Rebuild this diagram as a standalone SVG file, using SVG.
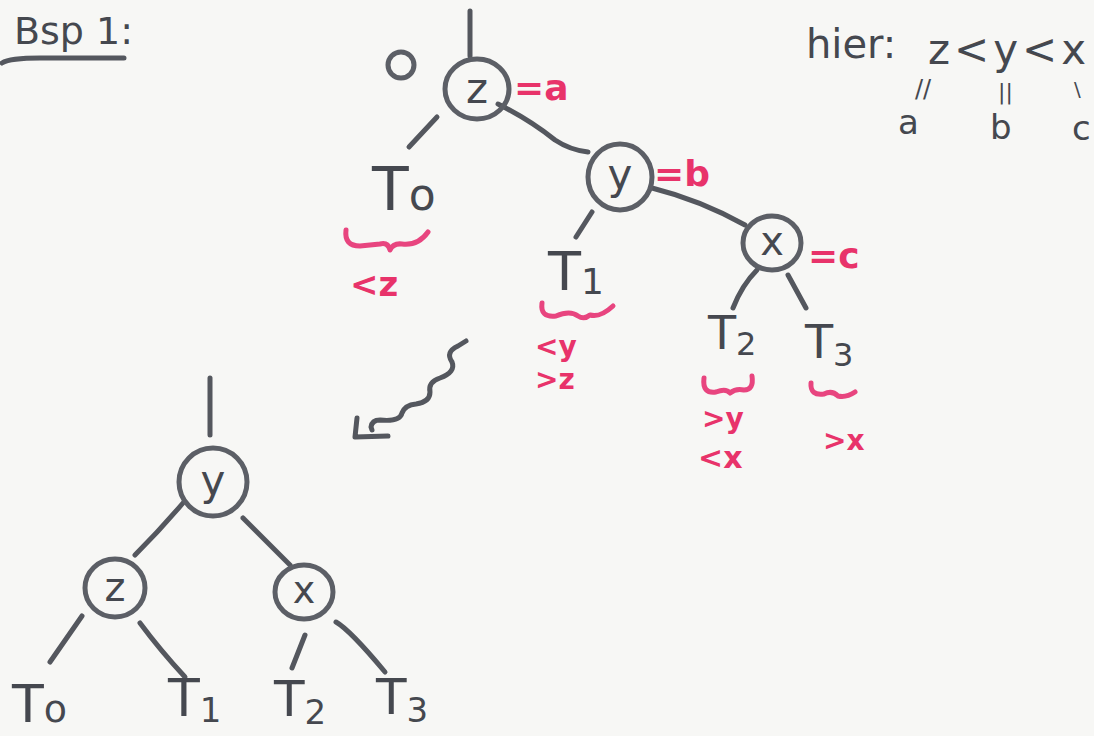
<svg xmlns="http://www.w3.org/2000/svg" width="1094" height="736" viewBox="0 0 1094 736">
<style>
.s{fill:none;stroke:#54575e;stroke-width:5;stroke-linecap:round;stroke-linejoin:round}
.c{fill:none;stroke:#5c5f66;stroke-width:5}
.p{fill:none;stroke:#e8457f;stroke-width:5;stroke-linecap:round;stroke-linejoin:round}
.t{font-family:"DejaVu Sans",sans-serif;fill:#45484f}
.tp{font-family:"DejaVu Sans",sans-serif;fill:#e8336a;font-weight:bold}
</style>
<rect width="1094" height="736" fill="#f7f7f5"/>
<g id="title">
<text class="t" x="14" y="44" font-size="38">Bsp 1:</text>
<path class="s" d="M2,63 Q10,58 40,58 L124,58"/>
</g>
<g id="legend">
<text class="t" x="806" y="58" font-size="40">hier:</text>
<text class="t" x="928" y="64" font-size="42" letter-spacing="4">z&lt;y&lt;x</text>
<text class="t" x="915" y="97" font-size="24">//</text>
<text class="t" x="998" y="99" font-size="22">||</text>
<text class="t" x="1074" y="96" font-size="20">\</text>
<text class="t" x="898" y="134" font-size="34">a</text>
<text class="t" x="990" y="139" font-size="34">b</text>
<text class="t" x="1072" y="140" font-size="34">c</text>
</g>
<g id="connectors">
<path class="s" d="M470,11 L470,56"/>
<path class="s" d="M437,117 L409,147"/>
<path class="s" d="M498,104 Q530,120 555,140 Q570,150 588,152"/>
<path class="s" d="M592,212 L576,237"/>
<path class="s" d="M652,188 Q700,200 745,225"/>
<path class="s" d="M757,270 Q742,285 733,308"/>
<path class="s" d="M788,275 L806,308"/>
<path class="s" d="M466,341 L458,346 Q445,352 452,362 Q456,372 440,378 Q428,382 430,392 Q430,402 416,404 Q405,405 402,413 Q400,422 380,420 Q372,420 371,427 L372,430"/>
<path class="s" d="M357,418 L355,437 L388,436"/>
<path class="s" d="M210,378 L210,435"/>
<path class="s" d="M183,503 Q160,530 135,555"/>
<path class="s" d="M243,518 L290,565"/>
<path class="s" d="M82,616 L50,662"/>
<path class="s" d="M140,623 Q160,650 185,677"/>
<path class="s" d="M305,635 L292,668"/>
<path class="s" d="M336,622 Q350,630 385,672"/>
</g>
<g id="top-extra">
<circle class="c" cx="401" cy="65" r="13"/>
</g>
<g id="node-z-top">
<ellipse class="c" cx="477" cy="89" rx="32" ry="30"/>
<text class="t" x="477" y="103" font-size="42" text-anchor="middle">z</text>
<text class="tp" x="514" y="100" font-size="36">=a</text>
</g>
<g id="node-y-top">
<ellipse class="c" cx="620" cy="177" rx="32" ry="33"/>
<text class="t" x="620" y="189" font-size="42" text-anchor="middle">y</text>
<text class="tp" x="654" y="186" font-size="36">=b</text>
</g>
<g id="node-x-top">
<ellipse class="c" cx="772" cy="243" rx="29" ry="27"/>
<text class="t" x="772" y="255" font-size="40" text-anchor="middle">x</text>
<text class="tp" x="808" y="268" font-size="36">=c</text>
</g>
<g id="T0-top">
<text class="t" x="372" y="210" font-size="60">T<tspan font-size="44">o</tspan></text>
<path class="p" d="M346,230 Q344,246 360,246 L380,244 Q388,242 390,250 Q393,243 402,244 Q418,246 428,232"/>
<text class="tp" x="350" y="296" font-size="34">&lt;z</text>
</g>
<g id="T1-top">
<text class="t" x="548" y="290" font-size="54">T<tspan font-size="36" dy="4">1</tspan></text>
<path class="p" d="M542,303 Q540,318 556,316 Q570,310 578,316 Q584,320 590,315 Q600,318 613,306"/>
<text class="tp" x="535" y="356" font-size="28">&lt;y</text>
<text class="tp" x="535" y="389" font-size="28">&gt;z</text>
</g>
<g id="T2-top">
<text class="t" x="708" y="349" font-size="46">T<tspan font-size="32" dy="6">2</tspan></text>
<path class="p" d="M704,378 Q702,394 716,392 Q726,388 730,393 Q736,388 744,390 Q754,390 752,376"/>
<text class="tp" x="702" y="428" font-size="28">&gt;y</text>
<text class="tp" x="698" y="468" font-size="30">&lt;x</text>
</g>
<g id="T3-top">
<text class="t" x="805" y="358" font-size="46">T<tspan font-size="32" dy="8">3</tspan></text>
<path class="p" d="M811,383 Q810,396 824,394 Q832,390 838,396 Q846,398 855,392"/>
<text class="tp" x="823" y="450" font-size="28">&gt;x</text>
</g>
<g id="node-y-bottom">
<ellipse class="c" cx="213" cy="482" rx="34" ry="34"/>
<text class="t" x="213" y="495" font-size="42" text-anchor="middle">y</text>
</g>
<g id="node-z-bottom">
<ellipse class="c" cx="115" cy="588" rx="30" ry="29"/>
<text class="t" x="115" y="601" font-size="40" text-anchor="middle">z</text>
</g>
<g id="node-x-bottom">
<ellipse class="c" cx="304" cy="592" rx="29" ry="27"/>
<text class="t" x="304" y="603" font-size="38" text-anchor="middle">x</text>
</g>
<g id="T-bottom">
<text class="t" x="12" y="722" font-size="52">T<tspan font-size="38">o</tspan></text>
<text class="t" x="168" y="716" font-size="52">T<tspan font-size="34" dy="6">1</tspan></text>
<text class="t" x="274" y="716" font-size="50">T<tspan font-size="34" dy="8">2</tspan></text>
<text class="t" x="376" y="714" font-size="50">T<tspan font-size="34" dy="8">3</tspan></text>
</g>
</svg>
